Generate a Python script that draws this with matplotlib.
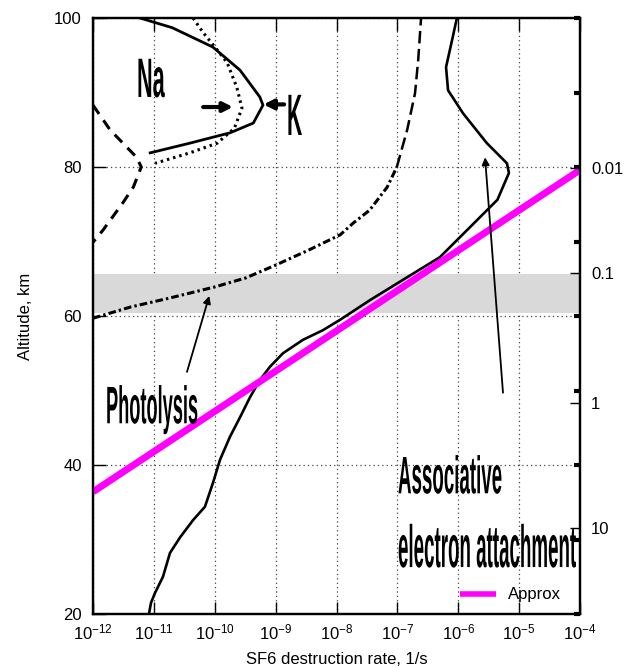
import numpy as np
import matplotlib
matplotlib.use("Agg")
import matplotlib.pyplot as plt
from matplotlib.patheffects import AbstractPathEffect
from matplotlib.transforms import Affine2D, Bbox
from matplotlib.text import Text

plt.rcParams['font.family'] = ['Liberation Sans', 'DejaVu Sans']
plt.rcParams['mathtext.fontset'] = 'custom'
plt.rcParams['mathtext.rm'] = 'Liberation Sans'
plt.rcParams['mathtext.it'] = 'Liberation Sans:italic'
plt.rcParams['mathtext.bf'] = 'Liberation Sans:bold'

# ---------------- data ----------------
assoc_rate = [9.5e-7, 7.9e-7, 6.3e-7, 6.8e-7, 1.2e-6, 2.95e-6, 6.3e-6, 6.8e-6,
              4.4e-6, 1.55e-6, 5.0e-7, 1.1e-7, 3.5e-8, 1.15e-8,
              6.0e-9, 2.81e-9, 1.32e-9, 8.1e-10, 5.5e-10, 3.8e-10, 2.6e-10,
              1.78e-10, 1.22e-10, 9.35e-11, 6.9e-11, 4.4e-11, 2.7e-11,
              1.84e-11, 1.41e-11, 1.04e-11, 8.97e-12, 8.3e-12]
assoc_alt = [100.0, 97.0, 93.4, 90.3, 87.2, 83.2, 80.5, 79.2,
             75.6, 71.9, 67.9, 64.6, 62.1, 59.5,
             58.1, 56.8, 55.0, 53.2, 51.4, 49.1, 46.4,
             43.8, 40.7, 37.6, 34.4, 32.6, 30.3,
             28.2, 25.0, 22.8, 21.5, 20.0]

photo_rate = [1.0e-12, 4.1e-12, 1.8e-11, 1.0e-10, 3.2e-10, 9.8e-10, 3.6e-9,
              1.15e-8, 1.9e-8, 3.5e-8, 6.8e-8, 9.8e-8, 1.45e-7, 1.95e-7,
              2.2e-7, 2.45e-7]
photo_alt = [59.7, 61.2, 62.4, 63.9, 65.1, 66.8, 68.9,
             70.9, 72.5, 74.2, 77.3, 80.0, 85.0, 89.9,
             94.4, 100.0]

k_rate = [5.9e-12, 2.0e-11, 9.3e-11, 2.6e-10, 5.5e-10, 6.2e-10, 4.3e-10,
          1.8e-10, 3.9e-11, 8.7e-12]
k_alt = [100.0, 98.7, 96.1, 93.0, 89.4, 88.3, 85.9, 84.6, 83.2, 81.9]

na_rate = [4.4e-11, 6.5e-11, 1.1e-10, 1.6e-10, 2.3e-10, 2.8e-10, 2.1e-10,
           1.1e-10, 3.9e-11, 1.05e-11]
na_alt = [100.0, 98.0, 95.7, 94.0, 90.7, 87.9, 85.2, 83.2, 81.9, 80.5]

dash_rate = [1.0e-12, 1.9e-12, 3.1e-12, 5.2e-12, 6.2e-12, 4.6e-12, 3.1e-12,
             2.1e-12, 1.45e-12, 1.0e-12]
dash_alt = [88.3, 85.0, 83.2, 81.3, 80.0, 77.3, 75.2, 73.3, 71.5, 69.9]

approx_rate = [1e-12, 1e-4]
approx_alt = [36.4, 79.6]

band_alt = [60.4, 65.6]

x_ticks = [1e-12, 1e-11, 1e-10, 1e-9, 1e-8, 1e-7, 1e-6, 1e-5, 1e-4]
x_tick_labels = ['$10^{-12}$', '$10^{-11}$', '$10^{-10}$', '$10^{-9}$',
                 '$10^{-8}$', '$10^{-7}$', '$10^{-6}$', '$10^{-5}$', '$10^{-4}$']
y_ticks = [20, 40, 60, 80, 100]
pressure_alt = [79.9, 65.8, 48.3, 31.5]
pressure_labels = ['0.01', '0.1', '1', '10']


class Squeeze(AbstractPathEffect):
    """Horizontally condense text glyphs about the text origin."""
    def __init__(self, sx):
        super().__init__()
        self.sx = sx

    def draw_path(self, renderer, gc, tpath, affine, rgbFace=None):
        m = affine.get_matrix()
        x0, y0 = m[0, 2], m[1, 2]
        extra = Affine2D().translate(-x0, -y0).scale(self.sx, 1.0).translate(x0, y0)
        renderer.draw_path(gc, tpath, affine + extra, rgbFace)


class SqueezedText(Text):
    """Left-aligned text drawn horizontally condensed; extent reflects it."""
    def __init__(self, *args, sx=1.0, **kw):
        super().__init__(*args, **kw)
        self._sx = sx
        self.set_path_effects([Squeeze(sx)])

    def get_window_extent(self, renderer=None, dpi=None):
        bb = super().get_window_extent(renderer, dpi)
        return Bbox.from_extents(bb.x0, bb.y0,
                                 bb.x0 + (bb.x1 - bb.x0) * self._sx, bb.y1)


fig = plt.figure(figsize=(6.24, 6.68), dpi=100)
ax = fig.add_axes([93 / 624, 54 / 668, 487 / 624, 596 / 668])
ax.set_xscale('log')
ax.set_xlim(1e-12, 1e-4)
ax.set_ylim(20, 100)

# grid
ax.set_xticks(x_ticks)
ax.set_xticklabels(x_tick_labels)
ax.xaxis.set_minor_locator(matplotlib.ticker.NullLocator())
ax.set_yticks(y_ticks)
ax.grid(True, which='major', color='#444444', linestyle=(0, (1, 2.5)), linewidth=0.9)
ax.set_axisbelow(True)

# grey band
ax.axhspan(band_alt[0], band_alt[1], color='#d9d9d9', zorder=1.5, lw=0)

# curves
ax.plot(k_rate, k_alt, color='k', lw=2.0, zorder=3)
ax.plot(na_rate, na_alt, color='k', lw=2.2, linestyle=(0, (0.8, 1.3)), zorder=3)
ax.plot(dash_rate, dash_alt, color='k', lw=2.2, linestyle=(0, (3.5, 2.5)), zorder=3)
ax.plot(photo_rate[:12], photo_alt[:12], color='k', lw=2.2,
        linestyle=(0, (2.5, 1.0, 0.8, 1.0)), zorder=3)
ax.plot(photo_rate[11:], photo_alt[11:], color='k', lw=1.8,
        linestyle=(0, (5, 2.2)), zorder=3)
ax.plot(assoc_rate, assoc_alt, color='k', lw=1.9, zorder=3)
ax.plot(approx_rate, approx_alt, color='#ff00ff', lw=5, zorder=4,
        solid_capstyle='butt', label='Approx')

# arrows
arrow_big = dict(arrowstyle='-|>', lw=3, color='k', mutation_scale=14,
                 shrinkA=0, shrinkB=0)
ax.annotate('', xy=(10 ** -9.70, 88.05), xytext=(10 ** -10.19, 88.05),
            arrowprops=arrow_big, zorder=5)
ax.annotate('', xy=(10 ** -9.20, 88.4), xytext=(10 ** -8.86, 88.4),
            arrowprops=arrow_big, zorder=5)
arrow_thin = dict(arrowstyle='-|>', lw=1.3, color='k', mutation_scale=11,
                  shrinkA=0, shrinkB=0)
ax.annotate('', xy=(10 ** -10.09, 62.7), xytext=(10 ** -10.456, 52.5),
            arrowprops=arrow_thin, zorder=5)
ax.annotate('', xy=(10 ** -5.56, 81.3), xytext=(10 ** -5.265, 49.7),
            arrowprops=arrow_thin, zorder=5)


# big condensed labels
def big_text(x, y, s, size, sx):
    t = SqueezedText(x, y, s, sx=sx, fontsize=size, fontweight='bold',
                     ha='left', va='baseline', transform=ax.transData, zorder=6)
    ax.add_artist(t)


big_text(10 ** -11.277, 89.4, 'Na', 40, 0.39)
big_text(10 ** -8.813, 84.3, 'K', 42, 0.36)
big_text(10 ** -11.786, 45.6, 'Photolysis', 38, 0.345)
big_text(10 ** -6.99, 36.2, 'Associative', 38, 0.355)
big_text(10 ** -6.99, 26.3, 'electron attachment', 43, 0.314)

# ticks and spines
for s in ax.spines.values():
    s.set_linewidth(1.6)
ax.tick_params(axis='x', which='major', direction='in', length=9, width=1,
               top=True, bottom=True, labelsize=12, pad=6)
ax.tick_params(axis='y', which='major', direction='in', length=9, width=1,
               left=True, right=False, labelsize=12, pad=8)

ax2 = ax.twinx()
ax2.set_ylim(20, 100)
ax2.set_yticks(pressure_alt)
ax2.set_yticklabels(pressure_labels)
ax2.set_yticks(list(range(20, 101, 10)), minor=True)
ax2.tick_params(axis='y', which='major', direction='in', length=7, width=1,
                labelsize=12, pad=8)
ax2.tick_params(axis='y', which='minor', direction='in', length=4, width=3)
for s in ax2.spines.values():
    s.set_linewidth(1.6)

ax.set_xlabel('SF6 destruction rate, 1/s', fontsize=12, labelpad=7)
ax.set_ylabel('Altitude, km', fontsize=12, labelpad=15)

leg = ax.legend(loc='lower right', frameon=False, fontsize=12, handlelength=2.2,
                handletextpad=0.7, borderaxespad=0.3, bbox_to_anchor=(0.985, 0.0))
for h in leg.legend_handles:
    h.set_linewidth(4)

fig.savefig('out.png', dpi=100)
